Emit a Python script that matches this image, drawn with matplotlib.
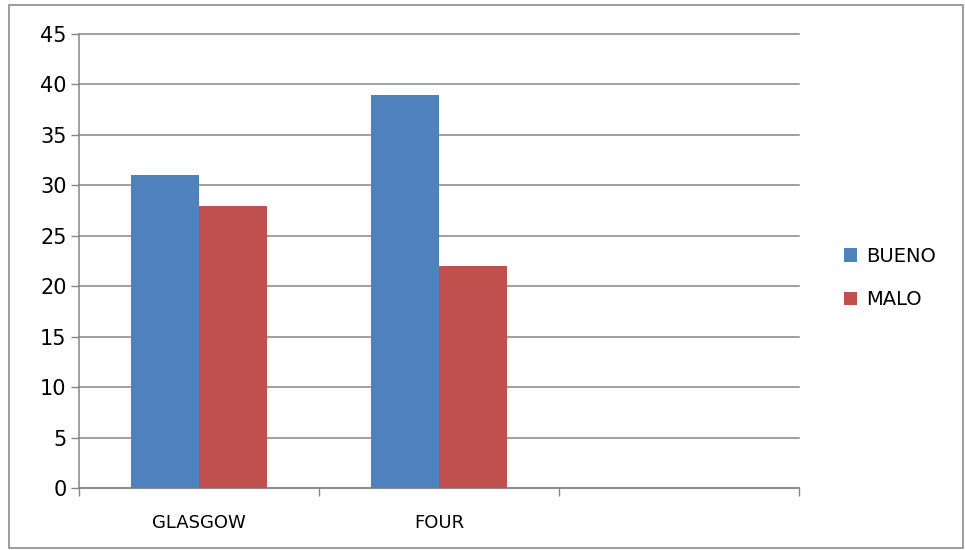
import matplotlib.pyplot as plt
import numpy as np
from matplotlib.patches import Rectangle

categories = ["GLASGOW", "FOUR", ""]
bueno = [31, 39, np.nan]
malo = [28, 22, np.nan]
series_names = ["BUENO", "MALO"]
yticks = np.arange(0, 46, 5)

plt.rcParams["font.family"] = ["Liberation Sans Narrow", "DejaVu Sans"]

fig = plt.figure(figsize=(9.65, 5.5), dpi=100)
ax = fig.add_axes([79 / 965, 1 - 488 / 550, 720 / 965, 454 / 550])

# outer chart border
fig.patches.append(Rectangle((9 / 965, 2 / 550), 954 / 965, 543 / 550, transform=fig.transFigure,
                             fill=False, edgecolor="#8c8c8c", linewidth=1.2))

x = np.arange(len(categories))
w = 0.285
ax.bar(x - w / 2, bueno, w, color="#4F81BD", label=series_names[0], zorder=3)
ax.bar(x + w / 2, malo, w, color="#C0504D", label=series_names[1], zorder=3)

ax.set_xlim(-0.5, len(categories) - 0.5)
ax.set_ylim(0, 45)
ax.set_yticks(yticks)
ax.yaxis.grid(True, color="#868686", linewidth=1.1, zorder=0)
ax.set_axisbelow(True)
for gl in ax.get_ygridlines():
    gl.set_clip_on(False)

# category labels centred, ticks at boundaries
ax.set_xticks(np.arange(len(categories) + 1) - 0.5)
ax.set_xticklabels([])
ax.set_xticks(x, minor=True)
ax.set_xticklabels(categories, minor=True)
ax.tick_params(axis="x", which="minor", length=0, pad=19, labelsize=13)
ax.tick_params(axis="x", which="major", length=6, color="#868686", width=1)
ax.tick_params(axis="y", length=6, color="#868686", width=1, labelsize=15, pad=3)

for s in ["top", "right"]:
    ax.spines[s].set_visible(False)
for s in ["left", "bottom"]:
    ax.spines[s].set_color("#868686")
    ax.spines[s].set_linewidth(1.1)

fig.legend(loc="center left", bbox_to_anchor=(826 / 965, 1 - 278 / 550), frameon=False,
           fontsize=14, handlelength=0.7, handleheight=0.7, handletextpad=0.45, labelspacing=1.25)

fig.savefig("out.png", dpi=100)
